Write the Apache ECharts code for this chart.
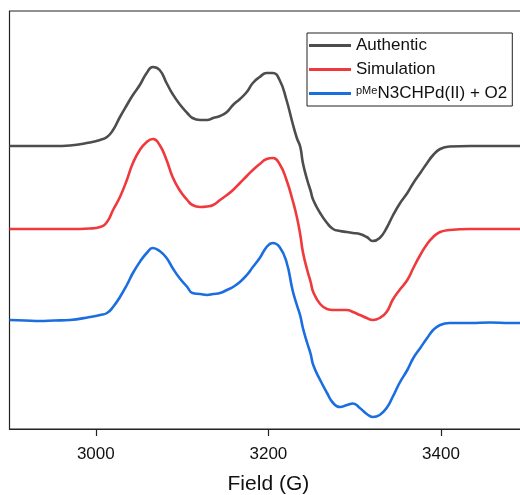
<!DOCTYPE html>
<html>
<head>
<meta charset="utf-8">
<script src="https://cdn.jsdelivr.net/npm/echarts@6/dist/echarts.min.js"></script>
<style>
  html, body { margin: 0; padding: 0; background: #fff; overflow: hidden; width: 520px; height: 495px; }
  #chart { width: 528px; height: 495px; }
</style>
</head>
<body>
<div id="chart"></div>
<script>
// Magnetic field (G)
var field = [2900, 2918, 2935, 2952, 2970, 2993, 3005, 3013, 3020, 3028, 3036, 3043, 3051, 3059, 3066, 3074, 3082, 3089, 3097, 3106, 3112, 3121, 3129, 3136, 3144, 3152, 3159, 3167, 3175, 3182, 3190, 3198, 3205, 3213, 3221, 3228, 3233, 3237, 3240, 3245, 3249, 3252, 3260, 3268, 3275, 3283, 3291, 3298, 3306, 3314, 3321, 3329, 3337, 3344, 3352, 3361, 3368, 3376, 3384, 3391, 3399, 3410, 3434, 3457, 3480, 3500];

// Offset intensities (arbitrary units)
var authentic = [283, 283, 283, 283, 283.5, 286.5, 289, 292, 299, 312, 324, 334, 344, 356, 362, 359, 346, 335, 325, 316, 311, 309, 309, 311, 313, 317, 324, 330, 337, 346, 352, 356, 356, 349, 329, 306, 291, 282, 266, 249, 238, 229, 216, 206, 200, 198, 197, 196, 195, 192, 188, 191, 201, 213, 225, 236, 246, 256, 266, 274, 280, 282.5, 283, 283, 283, 283];

var simulation = [200, 200, 200, 200, 200, 200.5, 202, 207, 219, 232, 249, 266, 279, 287, 290, 284, 269, 252, 239, 229, 224, 222, 222.5, 224, 229, 234, 239, 246, 253, 259, 265, 270, 271, 265, 249, 229, 212, 194, 177, 159, 147, 137, 125, 120, 119, 119, 119, 117, 114, 111, 109, 111, 117, 129, 139, 149, 161, 174, 185, 192, 197, 199, 200, 200, 200, 200];

var sample = [109, 108.5, 108, 108.5, 109, 112, 114, 116, 122, 132, 144, 156, 167, 176, 181, 178, 171, 161, 151, 142, 136, 135, 134, 135, 136, 139, 142, 147, 154, 162, 171, 182, 186, 182, 167, 139, 124, 113, 101, 86, 75, 64, 49, 36, 26, 22, 24, 25.5, 21, 15, 12, 14, 21, 32, 46, 59, 71, 81, 91, 99, 104, 106, 106, 106.5, 106, 106];

var seriesNames = ['Authentic', 'Simulation', 'pMeN3CHPd(II) + O2'];
var seriesColors = ['#4d4d4d', '#f0393c', '#1a6ee0'];
var xTicks = [3000, 3200, 3400];
var xTitle = 'Field (G)';

function pairs(ys) {
  return field.map(function (x, i) { return [x, ys[i]]; });
}

var font = '"Liberation Sans", Arial, sans-serif';
var chart = echarts.init(document.getElementById('chart'), null, { renderer: 'canvas' });

var option = {
  animation: false,
  backgroundColor: '#fff',
  grid: {
    left: 9.5, right: 0.75, top: 11, bottom: 66,
    containLabel: false,
    outerBoundsMode: 'none',
    show: true, borderColor: '#222', borderWidth: 1.2, backgroundColor: 'transparent'
  },
  legend: {
    orient: 'vertical',
    left: 307, top: 33,
    padding: [4, 5, 4, 2],
    itemGap: 7,
    itemWidth: 42,
    itemHeight: 2.8,
    icon: 'rect',
    borderColor: '#222',
    borderWidth: 1,
    borderRadius: 0,
    backgroundColor: '#fff',
    data: seriesNames,
    formatter: function (name) {
      if (name === seriesNames[2]) {
        return '{s|pMe}{t|N3CHPd(II) + O2}';
      }
      return name;
    },
    textStyle: {
      fontFamily: font, fontSize: 17, lineHeight: 16, color: '#111',
      rich: {
        s: { fontFamily: font, fontSize: 11, lineHeight: 11, verticalAlign: 'top', color: '#111' },
        t: { fontFamily: font, fontSize: 17, lineHeight: 16, color: '#111' }
      }
    }
  },
  xAxis: {
    type: 'value',
    min: 2900, max: 3500,
    name: xTitle,
    nameLocation: 'middle',
    nameGap: 45,
    nameTextStyle: { fontFamily: font, fontSize: 21, color: '#111' },
    axisLine: { show: true, lineStyle: { color: '#222', width: 1.2 } },
    axisTick: { show: true, inside: false, length: 7, customValues: xTicks, lineStyle: { color: '#222', width: 1.2 } },
    axisLabel: {
      show: true, margin: 17, customValues: xTicks, fontFamily: font, fontSize: 17, color: '#111',
      formatter: function (v) { return String(v); }
    },
    splitLine: { show: false }
  },
  yAxis: {
    type: 'value',
    min: 0, max: 418,
    show: true,
    axisLine: { show: false },
    axisTick: { show: false },
    axisLabel: { show: false },
    splitLine: { show: false }
  },
  series: [authentic, simulation, sample].map(function (ys, i) {
    return {
      name: seriesNames[i],
      type: 'line',
      data: pairs(ys),
      smooth: 0.5,
      symbol: 'none',
      lineStyle: { color: seriesColors[i], width: 2.6 },
      itemStyle: { color: seriesColors[i] }
    };
  })
};
chart.setOption(option);
</script>
</body>
</html>
